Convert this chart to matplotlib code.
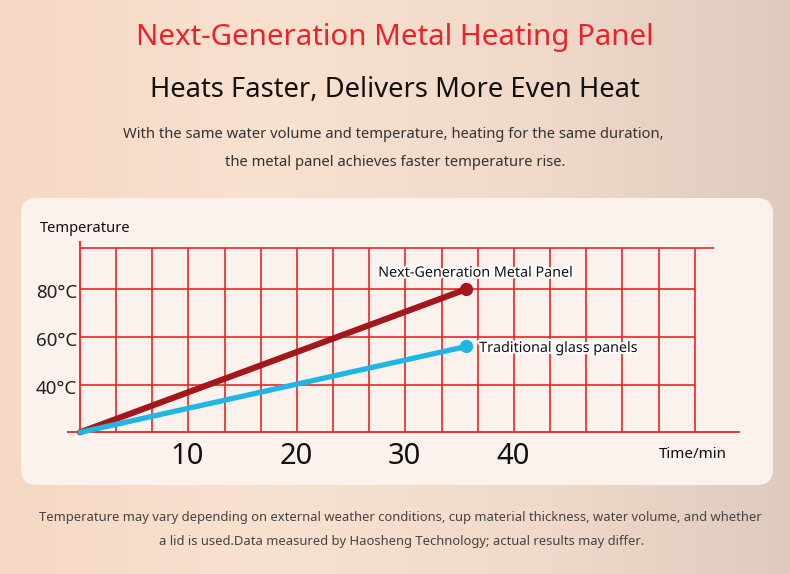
import numpy as np
import matplotlib
matplotlib.use("Agg")
import matplotlib.pyplot as plt
import matplotlib.patheffects as pe
from matplotlib.colors import LinearSegmentedColormap
from matplotlib.patches import FancyBboxPatch

# ---- data ----
time_min = [0, 35.6]
metal_temp = [20, 80]
glass_temp = [20, 56]
series_names = ["Next-Generation Metal Panel", "Traditional glass panels"]
x_ticks = [10, 20, 30, 40]
y_ticks = [40, 60, 80]
y_tick_labels = ["40°C", "60°C", "80°C"]

W, H, DPI = 790, 574, 100
RED_GRID = "#e8242b"
RED_LINE = "#a3161a"
BLUE_LINE = "#1fb6e6"
FONT = ["Noto Sans", "DejaVu Sans"]

fig = plt.figure(figsize=(W / DPI, H / DPI), dpi=DPI)
renderer = fig.canvas.get_renderer()


def fx(x):
    return x / W


def fy(y):
    return 1 - y / H


def fit_text(x, y, s, width, ha="center", **kw):
    """Place text in pixel coords, scaled so its width is `width` px."""
    t = fig.text(fx(x), fy(y + 3), s, ha=ha, va="center", fontsize=12, family=FONT, **kw)
    w = t.get_window_extent(renderer).width
    t.set_fontsize(12 * width / w)
    return t


# background gradient
bg = fig.add_axes([0, 0, 1, 1])
bg.set_axis_off()
cmap = LinearSegmentedColormap.from_list("bg", ["#f5d8c3", "#f9e1d0", "#f2dacb", "#dfcabe"])
bg.imshow(np.linspace(0, 1, 256)[None, :], aspect="auto", cmap=cmap, extent=[0, 1, 0, 1])
bg.set_xlim(0, 1)
bg.set_ylim(0, 1)
bg.add_patch(FancyBboxPatch((fx(21), fy(485)), fx(752), 287 / H,
                            boxstyle="round,pad=0,rounding_size=0.02",
                            mutation_aspect=W / H,
                            facecolor="#fcf2ed", edgecolor="none",
                            transform=bg.transAxes))

# header texts
fit_text(395, 34, "Next-Generation Metal Heating Panel", 517, color="#e8242b",
         weight="medium")
fit_text(395, 87, "Heats Faster, Delivers More Even Heat", 490, color="#111111")
fit_text(393, 131, "With the same water volume and temperature, heating for the same duration,",
         541, color="#333333")
fit_text(395, 159, "the metal panel achieves faster temperature rise.", 341, color="#333333")

# footnote
fit_text(400, 514, "Temperature may vary depending on external weather conditions, cup material "
         "thickness, water volume, and whether", 720, color="#444444")
fit_text(402, 538, "a lid is used.Data measured by Haosheng Technology; actual results may differ.",
         484, color="#444444")

# chart axes: 10.85 px per minute, 2.385 px per degree, origin at (80, 432) px
ax = fig.add_axes([fx(60), fy(440), 685 / W, 204 / H])
ax.set_xlim(-1.84, 61.3)
ax.set_ylim(16.8, 102.3)
ax.set_axis_off()

step = 10 / 3
grid_x = np.arange(1, 18) * step
top = 97.2
ax.vlines(grid_x, 20, top, color=RED_GRID, lw=1.2)
ax.hlines(y_ticks, 0, grid_x[-1], color=RED_GRID, lw=1.2)
ax.hlines(top, 0, 58.4, color=RED_GRID, lw=1.2)
ax.hlines(20, -1.2, 60.8, color=RED_GRID, lw=1.3)
ax.vlines(0, 19.3, 100, color=RED_GRID, lw=1.3)

ax.plot(time_min, metal_temp, color=RED_LINE, lw=4.4, solid_capstyle="round",
        marker="o", markevery=[-1], ms=8.5, zorder=4)
ax.plot(time_min, glass_temp, color=BLUE_LINE, lw=3.8, solid_capstyle="round",
        marker="o", markevery=[-1], ms=8.5, zorder=4)

halo = [pe.withStroke(linewidth=3, foreground="white")]
ax.annotate(series_names[0], (time_min[-1], metal_temp[-1]), xytext=(-88, 16),
            textcoords="offset pixels", ha="left", va="center", fontsize=10.3,
            family=FONT, color="#111111", path_effects=halo, zorder=5)
ax.annotate(series_names[1], (time_min[-1], glass_temp[-1]), xytext=(13, -2),
            textcoords="offset pixels", ha="left", va="center", fontsize=10.3,
            family=FONT, color="#111111", path_effects=halo, zorder=5)

for v in x_ticks:
    ax.annotate(str(v), (v, 20), xytext=(-1, -24), textcoords="offset pixels",
                ha="center", va="center", fontsize=21, family=FONT,
                color="#111111")
for v, lab in zip(y_ticks, y_tick_labels):
    ax.annotate(lab, (0, v), xytext=(-3, -4), textcoords="offset pixels",
                ha="right", va="center", fontsize=13.5, family=FONT,
                color="#222222")

fit_text(40, 225, "Temperature", 90, ha="left", color="#111111")
fit_text(659, 452, "Time/min", 68, ha="left", color="#111111")

fig.savefig("out.png", dpi=DPI)
